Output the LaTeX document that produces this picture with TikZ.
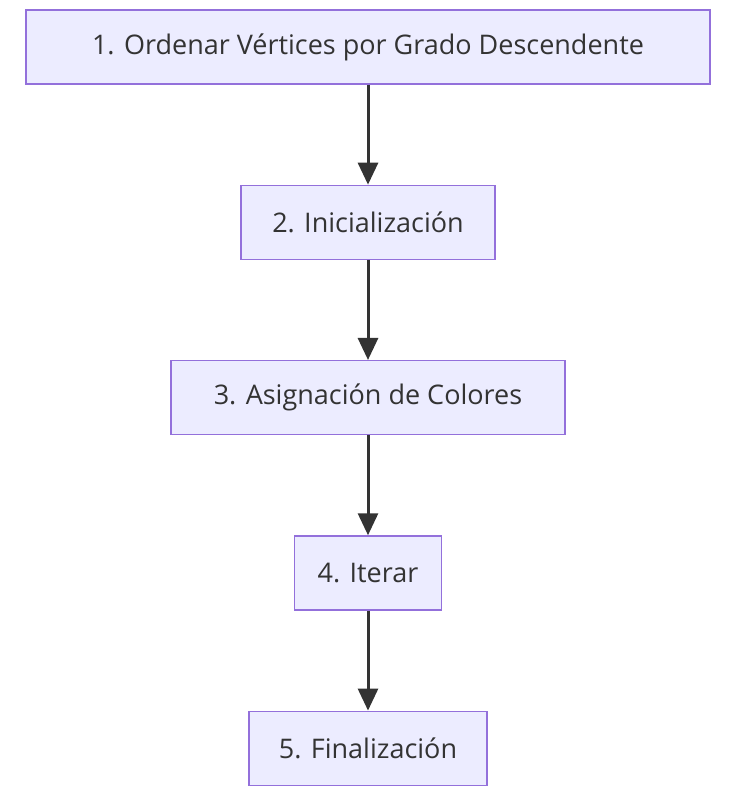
\documentclass[tikz,border=0pt]{standalone}
\usepackage{fontspec}
\setmainfont{Open Sans}
\usetikzlibrary{positioning,arrows.meta}
\definecolor{boxfill}{HTML}{ECECFF}
\definecolor{boxline}{HTML}{9370DB}
\definecolor{arrowcol}{HTML}{333333}
\tikzset{
  stepbox/.style={draw=boxline,fill=boxfill,line width=1.3pt,minimum height=74pt,
    inner xsep=14pt,font=\fontsize{27}{32}\selectfont,text=arrowcol},
  flow/.style={draw=arrowcol,line width=3pt,-{Triangle[length=22pt,width=20pt]}}
}
\begin{document}
\begin{tikzpicture}[x=1pt,y=1pt,node distance=100pt]
       \useasboundingbox (0,0) rectangle (741,-792);

       % pasos
       \node[stepbox,minimum width=684pt] (orden) at (368,-47) {1. Ordenar Vértices por Grado Descendente};
       \node[stepbox,minimum width=254pt,below=of orden] (inicio) {2. Inicialización};
       \node[stepbox,minimum width=394pt,below=of inicio] (asigna) {3. Asignación de Colores};
       \node[stepbox,minimum width=147pt,below=of asigna] (itera) {4. Iterar};
       \node[stepbox,minimum width=238pt,below=of itera] (fin) {5. Finalización};

       % flechas
       \foreach \a/\b in {orden/inicio,inicio/asigna,asigna/itera,itera/fin}
       	\draw[flow] (\a) -- (\b);

\end{tikzpicture}
\end{document}
